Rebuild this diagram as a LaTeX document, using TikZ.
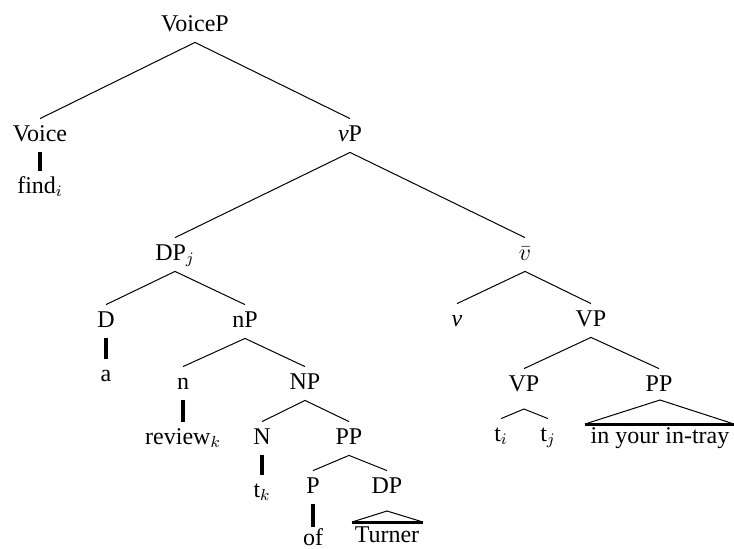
\documentclass[tikz,border=0pt]{standalone}
\usepackage{fontspec}
\setmainfont{Liberation Serif}
\begin{document}
\begin{tikzpicture}[x=0.5pt,y=-0.5pt,
  font=\fontsize{12}{14}\selectfont,
  lab/.style={anchor=base, inner xsep=1pt, inner ysep=3pt, text height=8pt, text depth=2.5pt},
  br/.style={line width=0.5pt},
  thk/.style={line width=1.6pt},
  tribase/.style={line width=1.5pt}]
\useasboundingbox (0,0) rectangle (734,548);
% nodes
\node[lab] (VoiceP) at (195,31) {VoiceP};
\node[lab] (Voice) at (40,141) {Voice};
\node[lab] (find) at (40,193) {find$_i$};
\node[lab] (vP) at (350,141) {\textit{v}P};
\node[lab] (DPj) at (175,260) {DP$_j$};
\node[lab] (vbar) at (525,260) {$\bar{v}$};
\node[lab] (D) at (106,327) {D};
\node[lab] (nP) at (245,327) {nP};
\node[lab] (a) at (106,381) {a};
\node[lab] (n) at (183,389) {n};
\node[lab] (NP) at (305,389) {NP};
\node[lab] (review) at (183,444) {review$_k$};
\node[lab] (N) at (262,444) {N};
\node[lab] (PP) at (349,444) {PP};
\node[lab] (tk) at (262,497) {t$_k$};
\node[lab] (P) at (313,493) {P};
\node[lab] (DP) at (387,493) {DP};
\node[lab, text depth=1pt, inner ysep=2pt] (of) at (313,545) {of};
\coordinate (DPtop) at (387,511);
\coordinate (DPl) at (352,522);
\coordinate (DPr) at (423,522);
\node[lab, text depth=1pt, inner ysep=2pt] (Turner) at (387,542) {Turner};
\node[lab] (v) at (457,326) {\textit{v}};
\node[lab] (VP) at (591,326) {VP};
\node[lab] (VPb) at (524,391) {VP};
\node[lab] (PPb) at (659,391) {PP};
\coordinate (VPbapex) at (524,409);
\node[lab] (ti) at (501,441) {t$_i$};
\node[lab] (tj) at (548,441) {t$_j$};
\coordinate (PPtop) at (660,400);
\coordinate (PPl) at (585,424);
\coordinate (PPr) at (734,424);
\node[lab] (intray) at (660,443) {in your in-tray};
% branches
\draw[br] (Voice.north) -- (VoiceP.south) -- (vP.north);
\draw[br] (DPj.north) -- (vP.south) -- (vbar.north);
\draw[br] (D.north) -- (DPj.south) -- (nP.north);
\draw[br] (n.north) -- (nP.south) -- (NP.north);
\draw[br] (N.north) -- (NP.south) -- (PP.north);
\draw[br] (P.north) -- (PP.south) -- (DP.north);
\draw[br] (v.north) -- (vbar.south) -- (VP.north);
\draw[br] (VPb.north) -- (VP.south) -- (PPb.north);
\draw[br] (ti.north) -- (VPbapex) -- (tj.north);
% unary
\draw[thk] (Voice.south) -- (find.north);
\draw[thk] (D.south) -- (a.north);
\draw[thk] (n.south) -- (review.north);
\draw[thk] (N.south) -- (tk.north);
\draw[thk] (P.south) -- ([yshift=-1pt]of.north);
% triangles
\draw[br] (DPl) -- (DPtop) -- (DPr);
\draw[tribase] (DPl) -- (DPr);
\draw[br] (PPl) -- (PPtop) -- (PPr);
\draw[tribase] (PPl) -- (PPr);
\end{tikzpicture}
\end{document}
